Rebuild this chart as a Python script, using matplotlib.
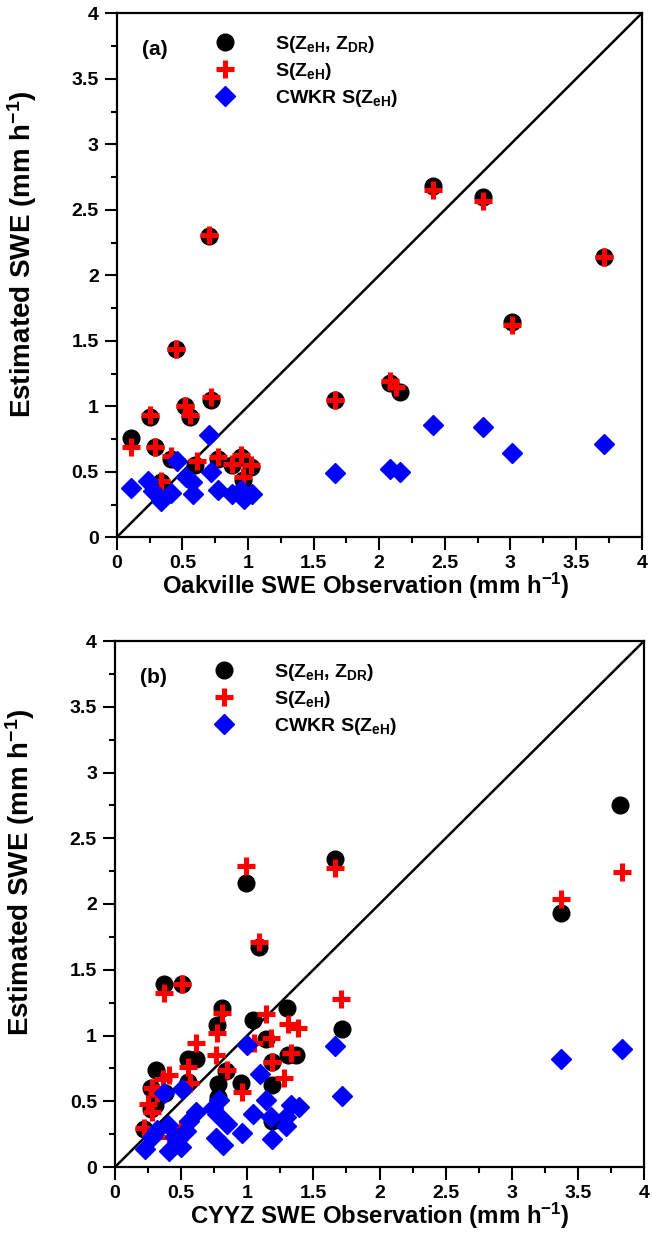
import matplotlib
matplotlib.use("Agg")
import matplotlib.pyplot as plt
from matplotlib.ticker import MultipleLocator

plt.rcParams['font.family'] = ['Liberation Sans', 'DejaVu Sans']
plt.rcParams['font.weight'] = 'bold'
plt.rcParams['mathtext.fontset'] = 'custom'
plt.rcParams['mathtext.rm'] = 'Liberation Sans:bold'
plt.rcParams['mathtext.bf'] = 'Liberation Sans:bold'
plt.rcParams['mathtext.default'] = 'bf'

# panel (a) - Oakville
a_zdr_x = [0.11, 0.25, 0.29, 0.34, 0.41, 0.45, 0.52, 0.56, 0.60, 0.70, 0.72, 0.77, 0.88, 0.95, 0.96, 1.02,
           1.66, 2.08, 2.16, 2.41, 2.79, 3.01, 3.71]
a_zdr_y = [0.76, 0.92, 0.69, 0.42, 0.60, 1.44, 1.00, 0.92, 0.55, 2.30, 1.05, 0.60, 0.55, 0.61, 0.44, 0.54,
           1.05, 1.18, 1.11, 2.68, 2.60, 1.64, 2.14]
a_zeh_x = [0.11, 0.25, 0.29, 0.34, 0.41, 0.45, 0.52, 0.56, 0.61, 0.70, 0.72, 0.77, 0.88, 0.95, 0.96, 1.02,
           1.66, 2.08, 2.13, 2.41, 2.79, 3.01, 3.71]
a_zeh_y = [0.69, 0.93, 0.69, 0.43, 0.62, 1.44, 1.00, 0.93, 0.58, 2.31, 1.07, 0.61, 0.56, 0.63, 0.46, 0.55,
           1.05, 1.19, 1.15, 2.65, 2.57, 1.62, 2.14]
a_cwkr_x = [0.11, 0.24, 0.28, 0.34, 0.41, 0.46, 0.53, 0.57, 0.58, 0.70, 0.72, 0.77, 0.88, 0.95, 0.97, 1.03,
            1.66, 2.08, 2.16, 2.41, 2.79, 3.01, 3.71]
a_cwkr_y = [0.38, 0.43, 0.35, 0.28, 0.34, 0.58, 0.46, 0.42, 0.33, 0.78, 0.50, 0.36, 0.33, 0.36, 0.29, 0.33,
            0.49, 0.52, 0.50, 0.86, 0.84, 0.64, 0.71]

# panel (b) - CYYZ
b_zdr_x = [0.22, 0.27, 0.27, 0.30, 0.31, 0.38, 0.37, 0.51, 0.50, 0.55, 0.61, 0.55, 0.77, 0.81, 0.78, 0.78,
           0.84, 0.95, 0.99, 1.04, 1.09, 1.14, 1.19, 1.19, 1.19, 1.30, 1.31, 1.37, 1.66, 1.72, 3.37, 3.82]
b_zdr_y = [0.29, 0.60, 0.44, 0.47, 0.74, 0.56, 1.39, 1.39, 0.25, 0.82, 0.82, 0.65, 1.08, 1.21, 0.63, 0.53,
           0.73, 0.64, 2.16, 1.12, 1.67, 0.97, 0.80, 0.62, 0.35, 1.21, 0.85, 0.85, 2.34, 1.05, 1.93, 2.75]
b_zeh_x = [0.22, 0.25, 0.28, 0.28, 0.32, 0.36, 0.41, 0.41, 0.50, 0.37, 0.51, 0.55, 0.57, 0.61, 0.76, 0.77,
           0.81, 0.85, 0.96, 0.99, 1.05, 1.09, 1.14, 1.18, 1.19, 1.28, 1.31, 1.33, 1.38, 1.66, 1.71, 3.37, 3.83]
b_zeh_y = [0.30, 0.48, 0.42, 0.60, 0.56, 0.67, 0.70, 0.23, 0.29, 1.32, 1.39, 0.76, 0.64, 0.94, 0.85, 1.02,
           1.17, 0.74, 0.57, 2.29, 0.94, 1.71, 1.16, 0.98, 0.80, 0.68, 1.09, 0.87, 1.06, 2.27, 1.28, 2.04, 2.24]
b_cwkr_x = [0.23, 0.28, 0.32, 0.37, 0.40, 0.41, 0.45, 0.50, 0.51, 0.54, 0.56, 0.61, 0.74, 0.76, 0.77, 0.79,
            0.82, 0.85, 0.96, 1.00, 1.04, 1.10, 1.14, 1.18, 1.19, 1.29, 1.29, 1.33, 1.39, 1.66, 1.72, 3.37, 3.83]
b_cwkr_y = [0.14, 0.23, 0.28, 0.56, 0.32, 0.12, 0.23, 0.15, 0.59, 0.27, 0.35, 0.42, 0.45, 0.22, 0.40, 0.51,
            0.17, 0.33, 0.26, 0.93, 0.40, 0.71, 0.51, 0.38, 0.21, 0.38, 0.31, 0.47, 0.46, 0.92, 0.54, 0.82, 0.90]

panels = [
    ("(a)", "Oakville SWE Observation (mm h$^{-1}$)", a_zdr_x, a_zdr_y, a_zeh_x, a_zeh_y, a_cwkr_x, a_cwkr_y,
     [116.7 / 652, 1 - 537.3 / 1258, 525 / 652, 524 / 1258], 0.54, 0.475),
    ("(b)", "CYYZ SWE Observation (mm h$^{-1}$)", b_zdr_x, b_zdr_y, b_zeh_x, b_zeh_y, b_cwkr_x, b_cwkr_y,
     [115 / 652, 1 - 1167 / 1258, 529 / 652, 526 / 1258], 0.56, 0.5),
]

fig = plt.figure(figsize=(6.52, 12.58), dpi=100)

for tag, xlab, zx, zy, hx, hy, cx, cy, pos, ylab_y, xlab_x in panels:
    ax = fig.add_axes(pos)
    ax.plot([0, 4], [0, 4], color='black', lw=1.8, zorder=1)
    ax.plot(zx, zy, 'o', color='black', ms=12, ls='none', zorder=2, label='S(Z$_{eH}$, Z$_{DR}$)')
    ax.plot(hx, hy, '+', color='red', ms=13.5, mew=3.7, ls='none', zorder=3, label='S(Z$_{eH}$)')
    ax.plot(cx, cy, 'D', color='blue', ms=10.5, ls='none', zorder=4, label='CWKR S(Z$_{eH}$)')
    ax.set_xlim(0, 4)
    ax.set_ylim(0, 4)
    ax.xaxis.set_major_locator(MultipleLocator(0.5))
    ax.yaxis.set_major_locator(MultipleLocator(0.5))
    ax.xaxis.set_minor_locator(MultipleLocator(0.25))
    ax.yaxis.set_minor_locator(MultipleLocator(0.25))
    ax.xaxis.set_major_formatter(lambda v, p: '%g' % v)
    ax.yaxis.set_major_formatter(lambda v, p: '%g' % v)
    ax.tick_params(which='major', direction='out', length=9, width=1.5, labelsize=14, pad=4)
    ax.tick_params(which='minor', direction='out', length=4.5, width=1.5)
    for s in ax.spines.values():
        s.set_linewidth(1.6)
    ax.set_xlabel(xlab, fontsize=17.3, fontweight='bold', labelpad=-1)
    ax.xaxis.label.set_x(xlab_x)
    ax.set_ylabel('Estimated SWE (mm h$^{-1}$)', fontsize=20, fontweight='bold')
    ax.yaxis.set_label_coords(-0.148, ylab_y)
    ax.text(0.048, 0.93, tag, transform=ax.transAxes, fontsize=15, fontweight='bold', va='center')
    ax.legend(loc='upper left', bbox_to_anchor=(0.154, 0.975), frameon=False, fontsize=14,
              handletextpad=1.6, labelspacing=0.3, borderaxespad=0)

fig.savefig('out.png', dpi=100)
